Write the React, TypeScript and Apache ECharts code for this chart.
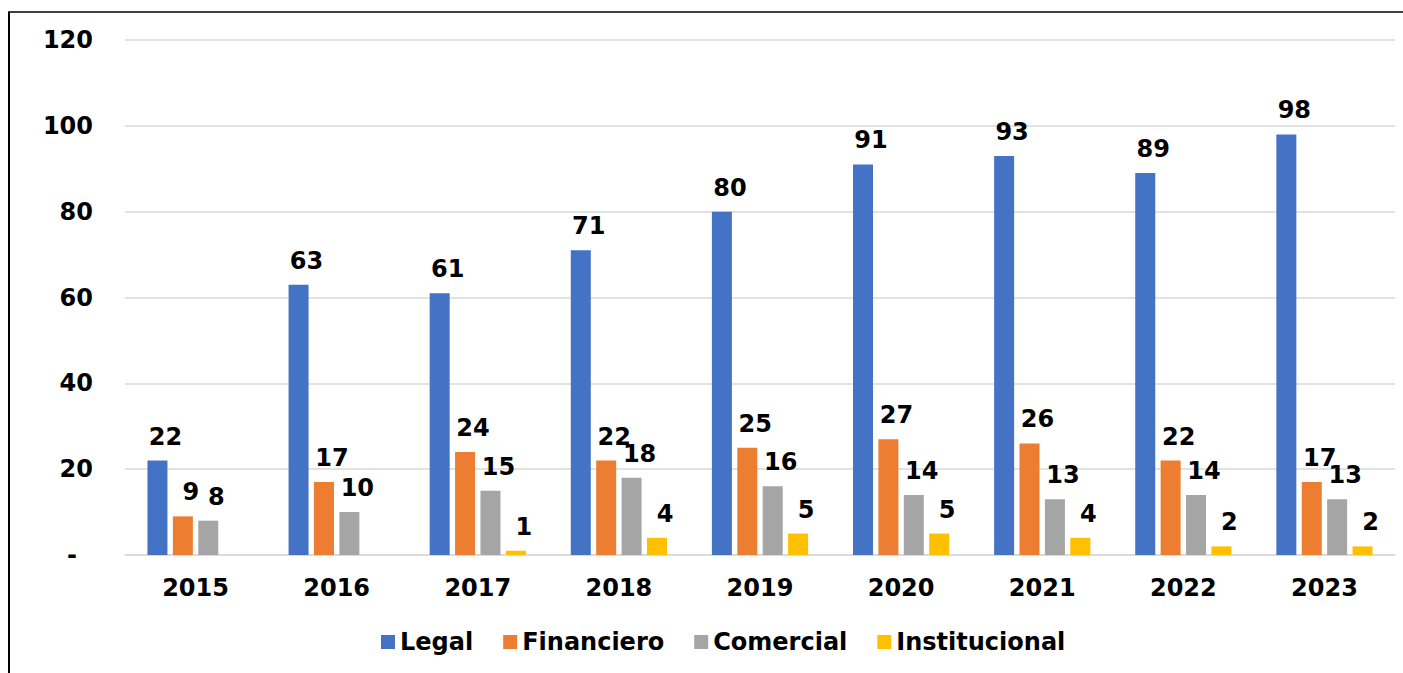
import React, { useEffect, useRef } from "react";
import * as echarts from "echarts";

const years = ["2015", "2016", "2017", "2018", "2019", "2020", "2021", "2022", "2023"];
const legal = [22, 63, 61, 71, 80, 91, 93, 89, 98];
const financiero = [9, 17, 24, 22, 25, 27, 26, 22, 17];
const comercial = [8, 10, 15, 18, 16, 14, 13, 14, 13];
const institucional = [null, null, 1, 4, 5, 5, 4, 2, 2];
const seriesNames = ["Legal", "Financiero", "Comercial", "Institucional"];
const colors = ["#4472C4", "#ED7D31", "#A5A5A5", "#FFC000"];

const FONT = "'DejaVu Sans', Verdana, sans-serif";

export default function App() {
  const ref = useRef<HTMLDivElement>(null);
  useEffect(() => {
    if (!ref.current) return;
    const chart = echarts.init(ref.current, undefined, { renderer: "svg" });
    const dataSets = [legal, financiero, comercial, institucional];
    chart.setOption({
      animation: false,
      backgroundColor: "#fff",
      color: colors,
      graphic: [
        { type: "line", shape: { x1: 9, y1: 12, x2: 9, y2: 673 }, style: { stroke: "#000", lineWidth: 2 } },
        { type: "line", shape: { x1: 8, y1: 12, x2: 1403, y2: 12 }, style: { stroke: "#000", lineWidth: 1.5 } },
      ],
      grid: { left: 125, right: 8, top: 40, bottom: 118 },
      legend: {
        data: seriesNames,
        left: 376,
        top: 625,
        itemWidth: 14,
        itemHeight: 14,
        itemGap: 30,
        icon: "rect",
        textStyle: { fontFamily: FONT, fontWeight: "bold", fontSize: 24, color: "#000" },
      },
      xAxis: {
        type: "category",
        data: years,
        axisTick: { show: false },
        axisLine: { lineStyle: { color: "#d9d9d9", width: 1.5 } },
        axisLabel: { fontFamily: FONT, fontWeight: "bold", fontSize: 24, color: "#000", margin: 21 },
      },
      yAxis: {
        type: "value",
        min: 0,
        max: 120,
        interval: 20,
        axisLine: { show: false },
        axisTick: { show: false },
        splitLine: { lineStyle: { color: "#d9d9d9", width: 1.5 } },
        axisLabel: {
          fontFamily: FONT,
          fontWeight: "bold",
          fontSize: 24,
          color: "#000",
          margin: 32,
          formatter: (v: number) => (v === 0 ? "{d|-}" : String(v)),
          rich: { d: { fontFamily: FONT, fontWeight: "bold", fontSize: 24, color: "#000", padding: [0, 16, 0, 0] } },
        },
      },
      series: seriesNames.map((name, i) => ({
        name,
        type: "bar",
        data: dataSets[i],
        barWidth: 20,
        barGap: "27%",
        label: {
          show: true,
          position: "top",
          distance: 12,
          offset: [8, 0],
          fontFamily: FONT,
          fontWeight: "bold",
          fontSize: 24,
          color: "#000",
        },
      })),
    });
    return () => chart.dispose();
  }, []);
  return <div ref={ref} style={{ position: "absolute", left: 0, top: 0, width: 1403, height: 673 }} />;
}
